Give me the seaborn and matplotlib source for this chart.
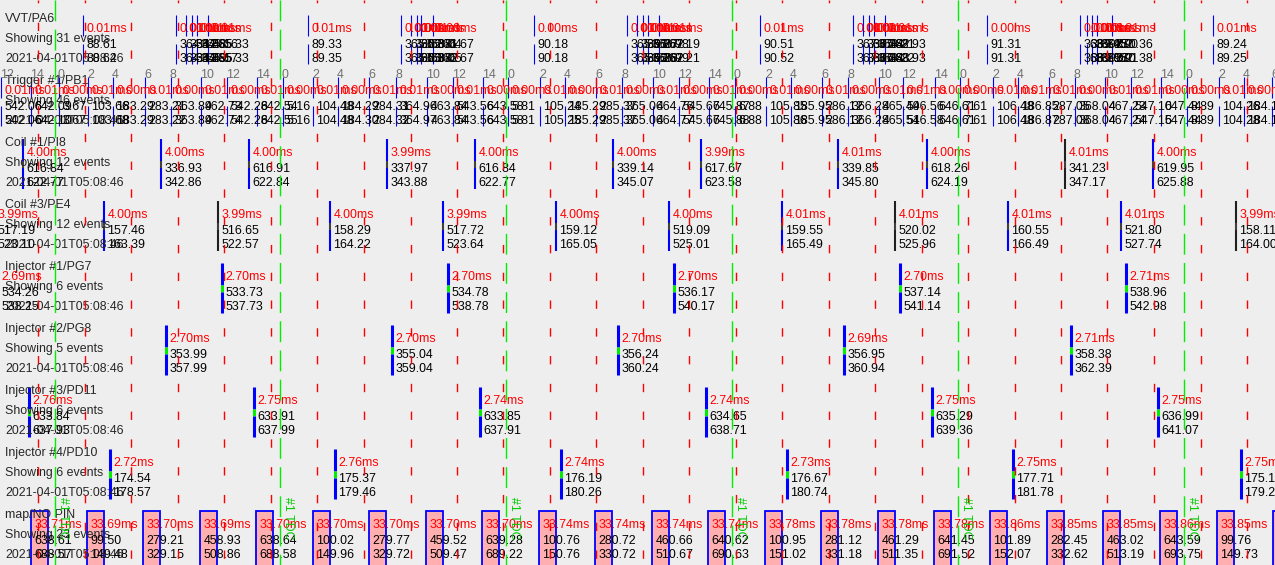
import matplotlib
matplotlib.use('Agg')
import matplotlib.pyplot as plt
import matplotlib.patches as mpatches
import seaborn as sns

# Engine sniffer snapshot. x is time in ms (2 ms per screen pixel at this zoom).
TIME_SPAN = 2550
SNAPSHOT = '2021-04-01T05:08:46'

channel_labels = ['VVT/PA6', 'Trigger #1/PB1', 'Coil #1/PI8', 'Coil #3/PE4',
                  'Injector #1/PG7', 'Injector #2/PG8', 'Injector #3/PD11',
                  'Injector #4/PD10', 'map/NO PIN']
channel_counts = [31, 46, 12, 12, 6, 5, 6, 6, 23]

tdc_times = [110, 560, 1012, 1464, 1916, 2368]
grid_times = [76, 170, 262, 356, 448, 542, 634, 728, 822, 914, 1006, 1100, 1192,
              1286, 1378, 1472, 1564, 1658, 1750, 1844, 1936, 2030, 2122, 2214,
              2308, 2402, 2494]

vvt_times = [166, 352, 372, 384, 394, 416, 616, 802, 822, 834, 842, 866, 1068,
             1254, 1274, 1286, 1296, 1318, 1520, 1706, 1726, 1738, 1748, 1770,
             1974, 2160, 2174, 2184, 2194, 2224, 2426]
vvt_durations = [0.01, 0.01, 0.01, 0.00, 0.01, 0.01, 0.01, 0.01, 0.00, 0.01, 0.01,
                 0.00, 0.00, 0.01, 0.01, 0.00, 0.01, 0.01, 0.01, 0.01, 0.00, 0.01,
                 0.01, 0.01, 0.00, 0.01, 0.01, 0.00, 0.01, 0.01, 0.01]
vvt_starts = [88.61, 364.12, 364.48, 364.85, 365.16, 365.33, 89.33, 365.02, 365.38,
              365.71, 366.04, 366.67, 90.18, 365.91, 366.27, 366.62, 366.98, 367.19,
              90.51, 367.05, 367.44, 367.82, 368.21, 368.93, 91.31, 368.74, 369.15,
              369.52, 369.90, 370.36, 89.24]
vvt_ends = [88.62, 364.13, 364.49, 364.85, 365.17, 365.33, 89.35, 365.03, 365.38,
            365.72, 366.05, 366.67, 90.18, 365.92, 366.28, 366.62, 366.99, 367.21,
            90.52, 367.06, 367.44, 367.83, 368.22, 368.93, 91.31, 368.75, 369.16,
            369.52, 369.91, 370.38, 89.25]

trigger_times = [2, 62, 118, 176, 226, 290, 342, 402, 454, 514, 566, 626, 676, 738,
                 792, 854, 906, 966, 1016, 1080, 1130, 1192, 1244, 1306, 1358, 1418,
                 1470, 1532, 1582, 1644, 1696, 1758, 1806, 1870, 1920, 1986, 2036,
                 2098, 2150, 2210, 2262, 2322, 2374, 2438, 2488, 2544]
trigger_teeth = [12, 14,
                 0, 2, 4, 6, 8, 10, 12, 14,
                 0, 2, 4, 6, 8, 10, 12, 14,
                 0, 2, 4, 6, 8, 10, 12, 14,
                 0, 2, 4, 6, 8, 10, 12, 14,
                 0, 2, 4, 6, 8, 10, 12, 14,
                 0, 2, 4, 6]
trigger_durations = [0.01, 0.01, 0.00, 0.01, 0.00, 0.01, 0.00, 0.01, 0.00, 0.01,
                     0.00, 0.01, 0.00, 0.01, 0.01, 0.00, 0.01, 0.00,
                     0.00, 0.01, 0.00, 0.01, 0.00, 0.01, 0.00, 0.01,
                     0.00, 0.01, 0.00, 0.01, 0.00, 0.01, 0.01, 0.00,
                     0.00, 0.01, 0.01, 0.01, 0.00, 0.01, 0.01, 0.00,
                     0.00, 0.01, 0.00, 0.01]
trigger_starts = [542.06, 642.09, 3.67, 103.66, 183.29, 283.21, 363.89, 462.73, 542.28, 642.54,
                  5.16, 104.48, 184.29, 284.31, 364.96, 463.84, 543.56, 643.58,
                  5.81, 105.24, 185.29, 285.37, 365.06, 464.76, 545.67, 645.87,
                  6.88, 105.85, 185.95, 286.12, 366.28, 465.49, 546.56, 646.61,
                  7.61, 106.48, 186.85, 287.05, 368.04, 467.23, 547.10, 647.44,
                  8.89, 104.26, 184.12, 284.18]
trigger_ends = [542.06, 642.10, 3.67, 103.68, 183.29, 283.22, 363.89, 462.74, 542.28, 642.55,
                5.16, 104.48, 184.30, 284.32, 364.97, 463.84, 543.56, 643.58,
                5.81, 105.25, 185.29, 285.37, 365.06, 464.77, 545.67, 645.88,
                6.88, 105.86, 185.95, 286.12, 366.28, 465.51, 546.58, 646.61,
                7.61, 106.48, 186.87, 287.08, 368.04, 467.24, 547.15, 647.44,
                8.89, 104.28, 184.12, 284.18]

coil1_times = [46, 322, 498, 774, 950, 1226, 1402, 1676, 1854, 2130, 2306]
coil1_durations = [4.00, 4.00, 4.00, 3.99, 4.00, 4.00, 3.99, 4.01, 4.00, 4.01, 4.00]
coil1_starts = [616.84, 336.93, 616.91, 337.97, 616.84, 339.14, 617.67, 339.85, 618.26, 341.23, 619.95]
coil1_ends = [622.77, 342.86, 622.84, 343.88, 622.77, 345.07, 623.58, 345.80, 624.19, 347.17, 625.88]

coil3_times = [-12, 208, 436, 660, 886, 1112, 1338, 1564, 1790, 2016, 2242, 2472]
coil3_durations = [3.99, 4.00, 3.99, 4.00, 3.99, 4.00, 4.00, 4.01, 4.01, 4.01, 4.01, 3.99]
coil3_starts = [517.19, 157.46, 516.65, 158.29, 517.72, 159.12, 519.09, 159.55, 520.02, 160.55, 521.80, 158.11]
coil3_ends = [523.10, 163.39, 522.57, 164.22, 523.64, 165.05, 525.01, 165.49, 525.96, 166.49, 527.74, 164.00]

inj1_times = [-4, 444, 896, 1348, 1800, 2252]
inj1_durations = [2.69, 2.70, 2.70, 2.70, 2.70, 2.71]
inj1_starts = [534.26, 533.73, 534.78, 536.17, 537.14, 538.96]
inj1_ends = [538.25, 537.73, 538.78, 540.17, 541.14, 542.98]

inj2_times = [332, 784, 1236, 1688, 2142]
inj2_durations = [2.70, 2.70, 2.70, 2.69, 2.71]
inj2_starts = [353.99, 355.04, 356.24, 356.95, 358.38]
inj2_ends = [357.99, 359.04, 360.24, 360.94, 362.39]

inj3_times = [58, 508, 960, 1412, 1864, 2316]
inj3_durations = [2.76, 2.75, 2.74, 2.74, 2.75, 2.75]
inj3_starts = [633.84, 633.91, 633.85, 634.65, 635.29, 636.99]
inj3_ends = [637.93, 637.99, 637.91, 638.71, 639.36, 641.07]

inj4_times = [220, 670, 1122, 1574, 2026, 2482]
inj4_durations = [2.72, 2.76, 2.74, 2.73, 2.75, 2.75]
inj4_starts = [174.54, 175.37, 176.19, 176.67, 177.71, 175.14]
inj4_ends = [178.57, 179.46, 180.26, 180.74, 181.78, 179.21]

map_times = [62, 174, 286, 400, 512, 626, 738, 852, 964, 1078, 1190, 1304, 1416,
             1530, 1642, 1756, 1868, 1980, 2094, 2206, 2320, 2434, 2546]
map_durations = [33.71, 33.69, 33.70, 33.69, 33.70, 33.70, 33.70, 33.70, 33.70,
                 33.74, 33.74, 33.74, 33.74, 33.78, 33.78, 33.78, 33.78, 33.86,
                 33.85, 33.85, 33.86, 33.85, 33.85]
map_starts = [638.61, 99.50, 279.21, 458.93, 638.64, 100.02, 279.77, 459.52, 639.28,
              100.76, 280.72, 460.66, 640.62, 100.95, 281.12, 461.29, 641.45, 101.89,
              282.45, 463.02, 643.59, 99.76, 279.80]
map_ends = [688.57, 149.48, 329.15, 508.86, 688.58, 149.96, 329.72, 509.47, 689.22,
            150.76, 330.72, 510.67, 690.63, 151.02, 331.18, 511.35, 691.52, 152.07,
            332.62, 513.19, 693.75, 149.73, 329.80]

# bars that show up dark instead of blue
coil1_dark = [9]
coil3_dark = [2, 8, 11]

BG = '#eeeeee'
BLUE = '#0000ff'
RED = '#ff0000'
GREEN = '#00ee00'
PINK = '#ffafaf'
ROW_TOP = 19
ROW_STEP = 62
FS = 8.9
TXT_DX = 7


def row_y(row):
    return ROW_TOP + ROW_STEP * row


def draw_texts(ax, yc, times, durations, starts, ends):
    for t, d, s, e in zip(times, durations, starts, ends):
        ax.text(t + TXT_DX, yc + 10.5, '{:.2f}ms'.format(d), color=RED,
                fontsize=FS, va='center', ha='left', zorder=3)
        ax.text(t + TXT_DX, yc + 25.5, '{:.2f}'.format(s), color='black',
                fontsize=FS, va='center', ha='left', zorder=3)
        ax.text(t + TXT_DX, yc + 40.5, '{:.2f}'.format(e), color='black',
                fontsize=FS, va='center', ha='left', zorder=3)


def draw_thin(ax, row, times, durations, starts, ends):
    yc = row_y(row)
    ax.vlines(times, yc - 4, yc + 17, color=BLUE, lw=0.8, zorder=2)
    ax.vlines(times, yc + 25, yc + 45, color=BLUE, lw=0.8, zorder=2)
    draw_texts(ax, yc, times, durations, starts, ends)


def draw_pulse(ax, row, times, durations, starts, ends, mid_color, lw, dark=()):
    yc = row_y(row)
    colors = ['#202020' if i in dark else BLUE for i in range(len(times))]
    ax.vlines(times, yc - 4, yc + 18, colors=colors, lw=lw, zorder=2)
    ax.vlines(times, yc + 18, yc + 25, color=mid_color, lw=lw, zorder=2)
    ax.vlines(times, yc + 25, yc + 46, colors=colors, lw=lw, zorder=2)
    draw_texts(ax, yc, times, durations, starts, ends)


def draw_map(ax, row, times, durations, starts, ends):
    yc = row_y(row)
    for t, d in zip(times, durations):
        ax.add_patch(mpatches.Rectangle((t, yc - 4), d, 70, facecolor=PINK,
                                        edgecolor=BLUE, lw=1.3, zorder=1))
    draw_texts(ax, yc, times, durations, starts, ends)


def main():
    sns.set_theme(style='white')
    plt.rcParams['font.family'] = ['Liberation Sans', 'DejaVu Sans']
    plt.rcParams['lines.scale_dashes'] = False

    fig = plt.figure(figsize=(12.75, 5.65), dpi=100, facecolor=BG)
    ax = fig.add_axes([0, 0, 1, 1])
    ax.set_facecolor(BG)
    ax.set_xlim(0, TIME_SPAN)
    ax.set_ylim(565, 0)
    ax.set_axis_off()

    for row, (name, count) in enumerate(zip(channel_labels, channel_counts)):
        yc = row_y(row)
        ax.text(10, yc, name, fontsize=FS, va='center', ha='left', zorder=3)
        ax.text(10, yc + 20, 'Showing {} events'.format(count), fontsize=FS,
                va='center', ha='left', zorder=3)
        ax.text(10, yc + 40, SNAPSHOT, fontsize=FS, va='center', ha='left', zorder=3)

    draw_thin(ax, 0, vvt_times, vvt_durations, vvt_starts, vvt_ends)
    draw_thin(ax, 1, trigger_times, trigger_durations, trigger_starts, trigger_ends)
    for t, tooth in zip(trigger_times, trigger_teeth):
        ax.text(t - 2, row_y(1) - 6, str(tooth), color='#707070', fontsize=FS,
                va='center', ha='left', zorder=3)

    draw_pulse(ax, 2, coil1_times, coil1_durations, coil1_starts, coil1_ends,
               '#404040', 1.5, coil1_dark)
    draw_pulse(ax, 3, coil3_times, coil3_durations, coil3_starts, coil3_ends,
               '#404040', 1.5, coil3_dark)
    draw_pulse(ax, 4, inj1_times, inj1_durations, inj1_starts, inj1_ends, GREEN, 2.2)
    draw_pulse(ax, 5, inj2_times, inj2_durations, inj2_starts, inj2_ends, GREEN, 2.2)
    draw_pulse(ax, 6, inj3_times, inj3_durations, inj3_starts, inj3_ends, GREEN, 2.2)
    draw_pulse(ax, 7, inj4_times, inj4_durations, inj4_starts, inj4_ends, GREEN, 2.2)
    draw_map(ax, 8, map_times, map_durations, map_starts, map_ends)

    # time grid and TDC marks go on top of everything
    ax.vlines(grid_times, 0, 565, color=RED, lw=1.0, linestyles=[(4, (6, 14))], zorder=4)
    ax.vlines(tdc_times, 0, 565, color=GREEN, lw=1.0, linestyles=[(0, (15, 6))], zorder=4)
    for t in tdc_times:
        ax.text(t + 4, 497, '#1 TDC', color='#00cc00', fontsize=FS, rotation=-90,
                ha='left', va='top', zorder=4)

    fig.savefig('out.png', dpi=100, facecolor=BG)


if __name__ == '__main__':
    main()
